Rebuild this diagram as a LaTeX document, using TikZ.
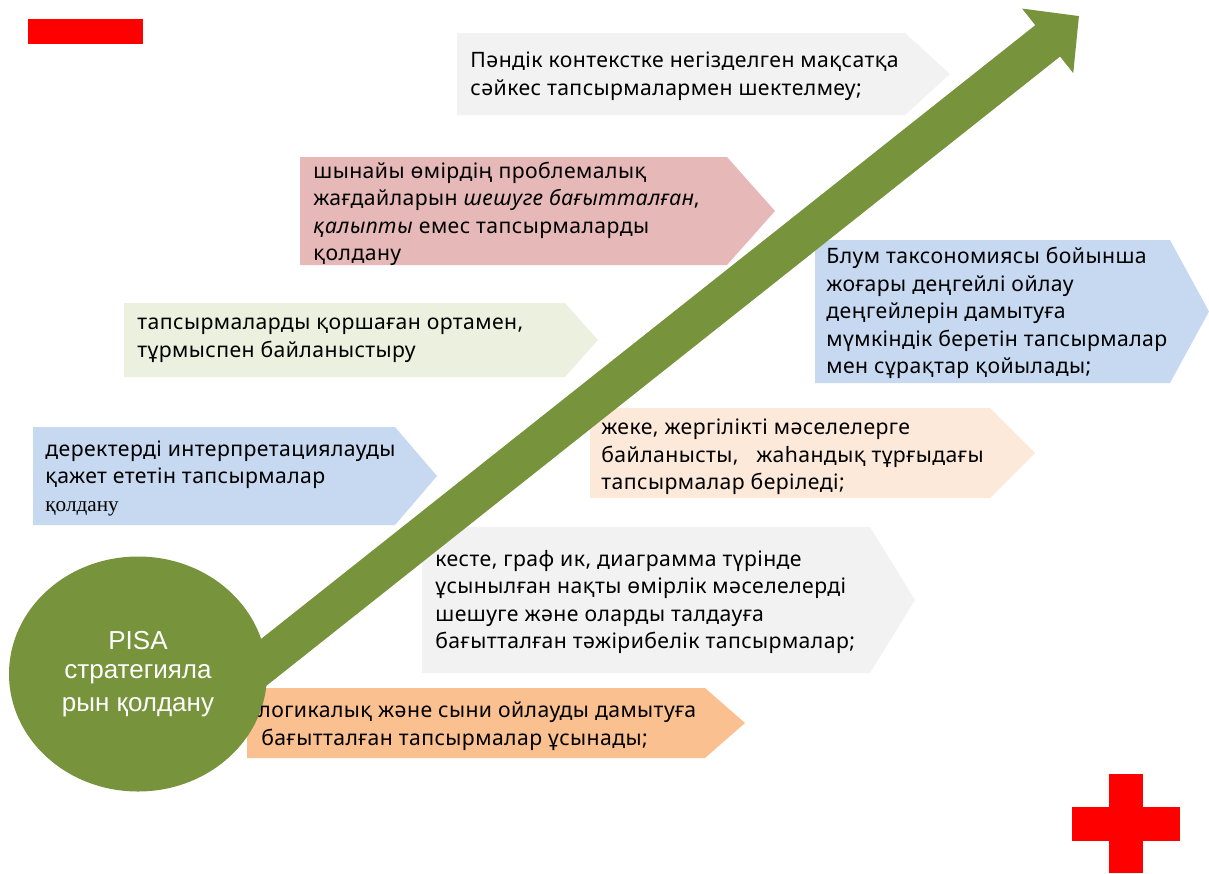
\documentclass[tikz,border=0pt]{standalone}
\usepackage{fontspec}
\usepackage{tikz}
\usepackage{xcolor}
\usetikzlibrary{shapes, positioning, arrows.meta}
\setmainfont{Noto Sans}[LetterSpace=2]
\newfontfamily\pisafont{Liberation Sans}
\newfontfamily\serfont{Liberation Serif}

\definecolor{pisagreen}{HTML}{77933C}
\definecolor{boxgrey}{HTML}{F2F2F2}
\definecolor{boxpink}{HTML}{E6B9B8}
\definecolor{boxlime}{HTML}{EBF1DE}
\definecolor{boxblue}{HTML}{C6D9F1}
\definecolor{boxpeach}{HTML}{FDE9D9}
\definecolor{boxorange}{HTML}{FAC090}
\definecolor{markred}{HTML}{FF0000}

% fill colour, left, top, right, bottom, tip
\newcommand{\tagbox}[6]{\fill[#1] (#2,#3) -- (#4,#3) -- (#6,{(#3+#5)/2}) -- (#4,#5) -- (#2,#5) -- cycle;}

\begin{document}
\begin{tikzpicture}[x=0.5pt, y=-0.5pt,
        txt/.style={anchor=west, align=left, inner sep=0pt, font=\fontsize{10.6}{13.75}\selectfont}]
        \useasboundingbox (0,0) rectangle (1209,873);

        \fill[markred] (28,19) rectangle (143,44);
        \fill[markred] (1109,774) rectangle (1143,873);
        \fill[markred] (1072,807) rectangle (1180,841);

        \tagbox{boxgrey}{457}{33}{905}{115}{950}
        \tagbox{boxpink}{300}{157}{727}{265}{775}
        \tagbox{boxlime}{124}{303}{565}{377}{598}
        \tagbox{boxblue}{33}{427}{395}{525}{437}
        \tagbox{boxblue}{815}{240}{1170}{383}{1209}
        \tagbox{boxpeach}{590}{408}{990}{498}{1035}
        \tagbox{boxgrey}{422}{527}{870}{673}{915}
        \tagbox{boxorange}{247}{688}{705}{758}{745}

        \coordinate (s) at (215,701);
        \coordinate (e) at (1079,16);
        \draw[line width=20pt, pisagreen, -{Triangle[length=20pt, width=40pt]}] (s) -- (e);

        \node[ellipse, fill=pisagreen, minimum width=129pt, minimum height=117.5pt, inner sep=0pt,
            align=center, text=white, font=\pisafont\fontsize{13}{16.5}\selectfont] (pisa) at (138,674)
            {\raisebox{-2pt}{PISA}\\стратегияла\\рын қолдану};

        \node[txt] (a) at (470,76) {Пәндік контекстке негізделген мақсатқа\\сәйкес тапсырмалармен шектелмеу;};
        \node[txt] (b) at (313,214) {шынайы өмірдің проблемалық\\жағдайларын \textit{шешуге бағытталған},\\\textit{қалыпты} емес тапсырмаларды\\қолдану};
        \node[txt] (c) at (137,340) {тапсырмаларды қоршаған ортамен,\\тұрмыспен байланыстыру};
        \node[txt] (d) at (45,478) {деректерді интерпретациялауды\\қажет ететін тапсырмалар\\{\serfont қолдану}};
        \node[txt] (f) at (826,313) {Блум таксономиясы бойынша\\жоғары деңгейлі ойлау\\деңгейлерін дамытуға\\мүмкіндік беретін тапсырмалар\\мен сұрақтар қойылады;};
        \node[txt] (g) at (601,457) {жеке, жергілікті мәселелерге\\байланысты,\ \ \ жаһандық тұрғыдағы\\тапсырмалар беріледі;};
        \node[txt] (h) at (435,602) {кесте, граф ик, диаграмма түрінде\\ұсынылған нақты өмірлік мәселелерді\\шешуге және оларды талдауға\\бағытталған тәжірибелік тапсырмалар;};
        \node[txt] (i) at (258,726) {логикалық және сыни ойлауды дамытуға\\\hspace{1.5pt}бағытталған тапсырмалар ұсынады;};
\end{tikzpicture}
\end{document}
